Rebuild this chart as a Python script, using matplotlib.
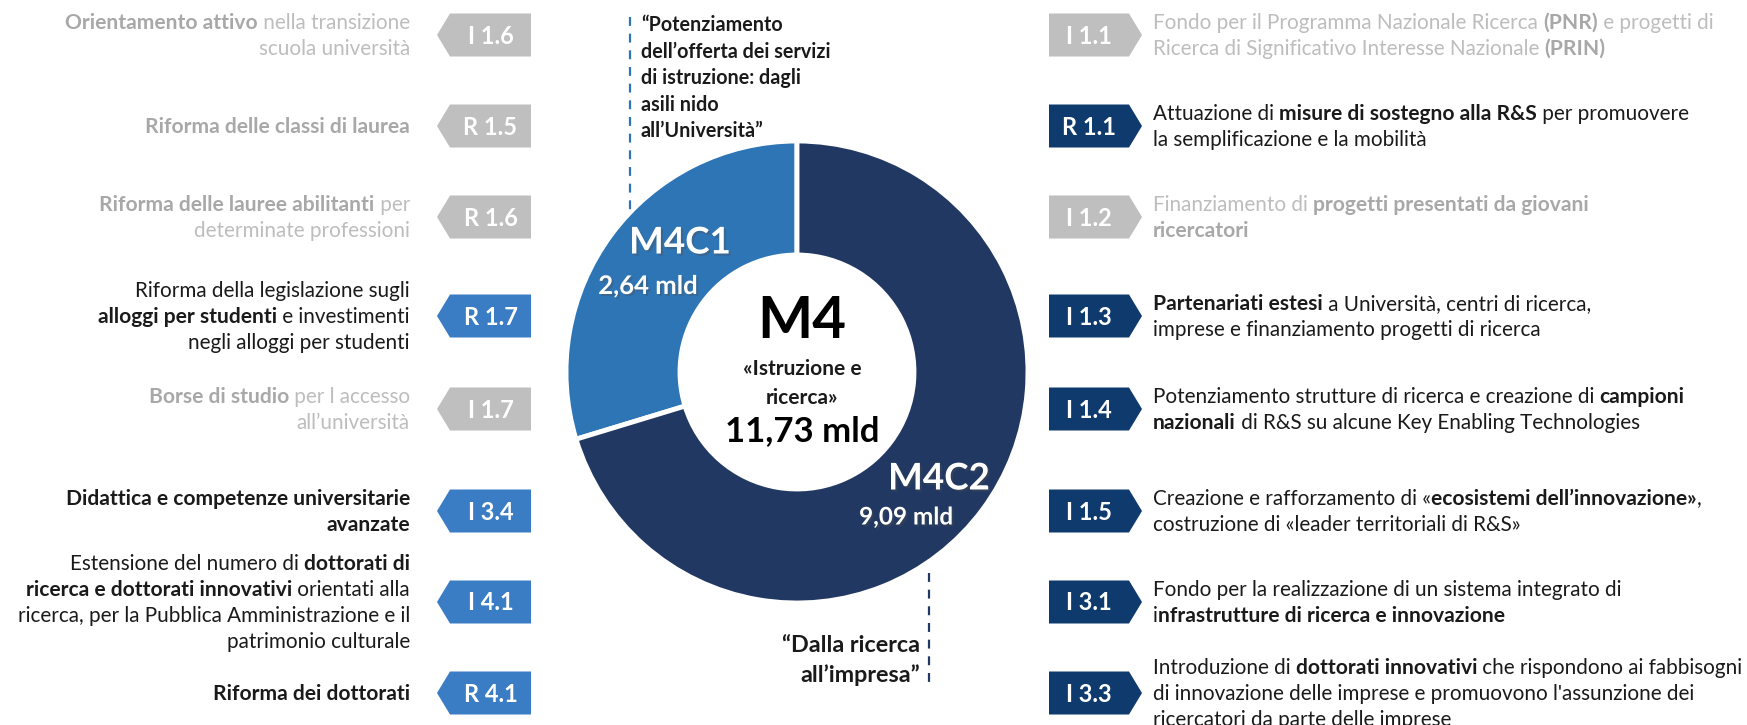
import matplotlib
matplotlib.use("Agg")
import matplotlib.pyplot as plt
from matplotlib.patches import Polygon
from matplotlib import patheffects

FONT = ["Lato", "DejaVu Sans"]

# donut data
component_names = ["M4C1", "M4C2"]
component_amounts = ["2,64 mld", "9,09 mld"]
component_share = [0.297, 0.703]  # angular share as drawn in the reference
component_colors = ["#2E75B6", "#213862"]
mission_name = "M4"
mission_title = ["«Istruzione e", "ricerca»"]
mission_total = "11,73 mld"

quote_c1 = ["“Potenziamento", "dell’offerta dei servizi", "di istruzione: dagli",
            "asili nido", "all’Università”"]
quote_c2 = ["“Dalla ricerca", "all’impresa”"]

# left column: code, state, lines of (text, bold)
left_codes = ["I 1.6", "R 1.5", "R 1.6", "R 1.7", "I 1.7", "I 3.4", "I 4.1", "R 4.1"]
left_state = ["off", "off", "off", "c1", "off", "c1", "c1", "c1"]
left_texts = [
    [[("Orientamento attivo", 1), (" nella transizione", 0)], [("scuola università", 0)]],
    [[("Riforma delle classi di laurea", 1)]],
    [[("Riforma delle lauree abilitanti", 1), (" per", 0)], [("determinate professioni", 0)]],
    [[("Riforma della legislazione sugli", 0)],
     [("alloggi per studenti", 1), (" e investimenti", 0)],
     [("negli alloggi per studenti", 0)]],
    [[("Borse di studio", 1), (" per l accesso", 0)], [("all’università", 0)]],
    [[("Didattica e competenze universitarie", 1)], [("avanzate", 1)]],
    [[("Estensione del numero di ", 0), ("dottorati di", 1)],
     [("ricerca e dottorati innovativi", 1), (" orientati alla", 0)],
     [("ricerca, per la Pubblica Amministrazione e il", 0)],
     [("patrimonio culturale", 0)]],
    [[("Riforma dei dottorati", 1)]],
]

# right column
right_codes = ["I 1.1", "R 1.1", "I 1.2", "I 1.3", "I 1.4", "I 1.5", "I 3.1", "I 3.3"]
right_state = ["off", "c2", "off", "c2", "c2", "c2", "c2", "c2"]
right_texts = [
    [[("Fondo per il Programma Nazionale Ricerca ", 0), ("(PNR)", 1), (" e progetti di", 0)],
     [("Ricerca di Significativo Interesse Nazionale ", 0), ("(PRIN)", 1)]],
    [[("Attuazione di ", 0), ("misure di sostegno alla R&S", 1), (" per promuovere", 0)],
     [("la semplificazione e la mobilità", 0)]],
    [[("Finanziamento di ", 0), ("progetti presentati da giovani", 1)], [("ricercatori", 1)]],
    [[("Partenariati estesi", 1), (" a Università, centri di ricerca,", 0)],
     [("imprese e finanziamento progetti di ricerca", 0)]],
    [[("Potenziamento strutture di ricerca e creazione di ", 0), ("campioni", 1)],
     [("nazionali", 1), (" di R&S su alcune Key Enabling Technologies", 0)]],
    [[("Creazione e rafforzamento di «", 0), ("ecosistemi dell’innovazione»", 1), (",", 0)],
     [("costruzione di «leader territoriali di R&S»", 0)]],
    [[("Fondo per la realizzazione di un sistema integrato di", 0)],
     [("i", 0), ("nfrastrutture di ricerca e innovazione", 1)]],
    [[("Introduzione di ", 0), ("dottorati innovativi", 1), (" che rispondono ai fabbisogni", 0)],
     [("di innovazione delle imprese e promuovono l'assunzione dei", 0)],
     [("ricercatori da parte delle imprese", 0)]],
]

# layout (pixels)
W, H = 1747, 725
row_y = [35, 126, 217, 316, 409, 511, 602, 693]
cx, cy, r_out, r_in = 797, 372, 231, 117
badge_fill = {"off": "#BFBFBF", "c1": "#3A7DC4", "c2": "#0E3A6E"}
BODY = {0: 14.9, 1: 15.1}
LINE = 26

fig = plt.figure(figsize=(W / 100, H / 100), dpi=100)

# donut
pax = fig.add_axes([(cx - r_out) / W, (H - cy - r_out) / H, 2 * r_out / W, 2 * r_out / H])
pax.pie(component_share, colors=component_colors, startangle=90, counterclock=True,
        radius=1, wedgeprops=dict(width=(r_out - r_in) / r_out, edgecolor="white", linewidth=3.5))
pax.set_xlim(-1, 1)
pax.set_ylim(-1, 1)
pax.axis("off")

# overlay in pixel coordinates
ax = fig.add_axes([0, 0, 1, 1])
ax.set_xlim(0, W)
ax.set_ylim(H, 0)
ax.axis("off")
ax.patch.set_visible(False)
renderer = fig.canvas.get_renderer()


def seg_width(s, bold):
    kw = dict(fontsize=BODY[bold], fontweight="bold" if bold else "normal", family=FONT)
    a = ax.text(0, 0, "|" + s + "|", **kw)
    b = ax.text(0, 0, "||", **kw)
    w = a.get_window_extent(renderer).width - b.get_window_extent(renderer).width
    a.remove()
    b.remove()
    return w


def draw_block(lines, x, yc, align, state):
    n = len(lines)
    for i, line in enumerate(lines):
        y = yc + (i - (n - 1) / 2) * LINE + 7
        widths = [seg_width(s, b) for s, b in line]
        xs = x - sum(widths) if align == "right" else x
        for (s, b), w in zip(line, widths):
            if state == "off":
                col = "#A8A8A8" if b else "#BDBDBD"
            else:
                col = "#1A1A1A"
            ax.text(xs, y, s, fontsize=BODY[b], fontweight="bold" if b else "normal",
                    family=FONT, color=col, va="baseline", ha="left")
            xs += w


def draw_badge(x0, x1, yc, code, state, point):
    h, d = 43, 13
    top, bot = yc - h / 2, yc + h / 2
    if point == "left":
        pts = [(x0, yc), (x0 + d, top), (x1, top), (x1, bot), (x0 + d, bot)]
        tx = (x0 + d + x1) / 2
    else:
        pts = [(x0, top), (x1 - d, top), (x1, yc), (x1 - d, bot), (x0, bot)]
        tx = (x0 + x1 - d) / 2
    ax.add_patch(Polygon(pts, closed=True, facecolor=badge_fill[state], edgecolor="none"))
    ax.text(tx, yc + 1, code, fontsize=17, fontweight="bold", family=FONT,
            color="white", ha="center", va="center")


for code, state, lines, y in zip(left_codes, left_state, left_texts, row_y):
    draw_badge(437, 531, y, code, state, "left")
    draw_block(lines, 410, y, "right", state)

for code, state, lines, y in zip(right_codes, right_state, right_texts, row_y):
    draw_badge(1049, 1142, y, code, state, "right")
    draw_block(lines, 1153, y, "left", state)

# donut labels
shadow = [patheffects.withSimplePatchShadow(offset=(1.5, -1.5), alpha=0.35)]
ax.text(680, 243, component_names[0], fontsize=26.5, fontweight="bold", family=FONT,
        color="white", ha="center", va="center", path_effects=shadow)
ax.text(648, 286, component_amounts[0], fontsize=18.5, fontweight="bold", family=FONT,
        color="white", ha="center", va="center", path_effects=shadow)
ax.text(939, 479, component_names[1], fontsize=26.5, fontweight="bold", family=FONT,
        color="white", ha="center", va="center", path_effects=shadow)
ax.text(906, 517, component_amounts[1], fontsize=17.5, fontweight="bold", family=FONT,
        color="white", ha="center", va="center", path_effects=shadow)

ax.text(802, 321, mission_name, fontsize=42, fontweight="bold", family=FONT,
        color="black", ha="center", va="center")
ax.text(802, 369, mission_title[0], fontsize=15, fontweight="bold", family=FONT,
        color="#1A1A1A", ha="center", va="center")
ax.text(802, 398, mission_title[1], fontsize=15, fontweight="bold", family=FONT,
        color="#1A1A1A", ha="center", va="center")
ax.text(802, 431, mission_total, fontsize=25, fontweight="bold", family=FONT,
        color="black", ha="center", va="center")

# component quotes and dashed leaders
for i, s in enumerate(quote_c1):
    ax.text(641, 25 + i * 26.5, s, fontsize=14.2, fontweight="bold", family=FONT,
            color="#1A1A1A", ha="left", va="center")
ax.plot([630, 630], [17, 211], color="#2E75B6", lw=1.6, ls=(0, (4, 3.5)))

for i, s in enumerate(quote_c2):
    ax.text(920, 646 + i * 29, s, fontsize=16.8, fontweight="bold", family=FONT,
            color="#1A1A1A", ha="right", va="center")
ax.plot([929, 929], [573, 688], color="#213862", lw=1.6, ls=(0, (4, 3.5)))

fig.savefig("out.png", dpi=100, facecolor="white")
